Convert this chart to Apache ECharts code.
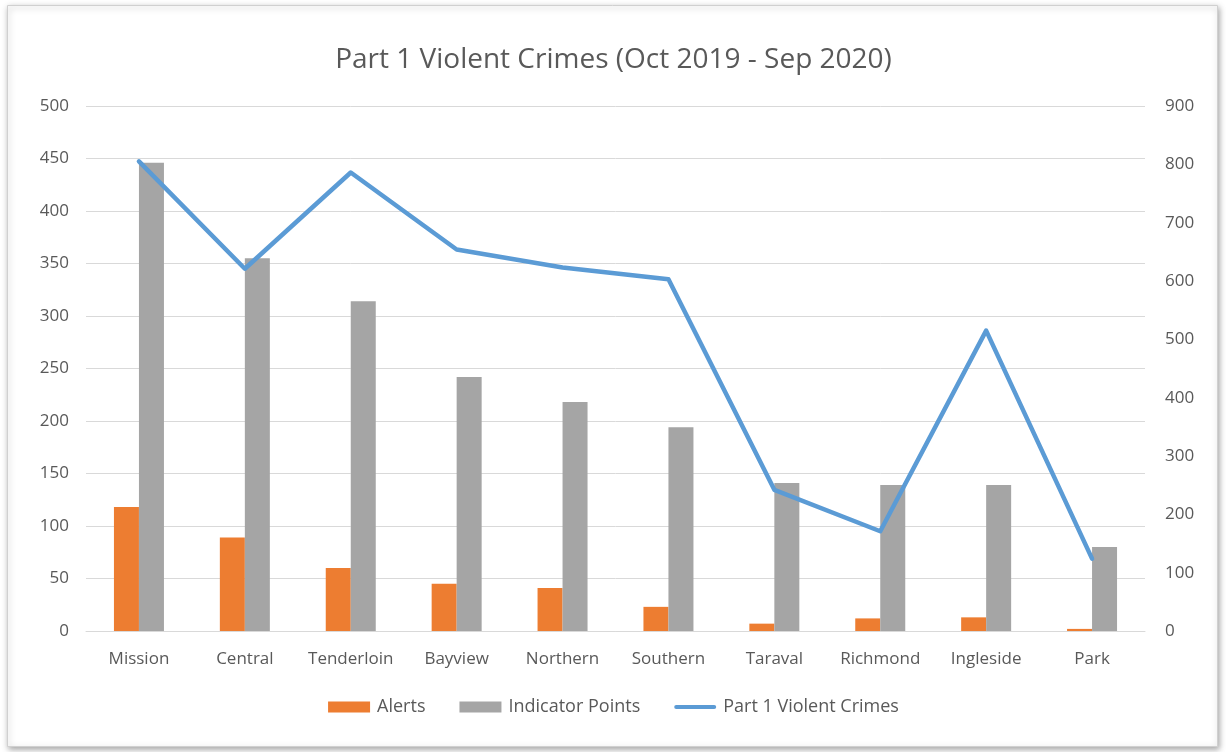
<!DOCTYPE html>
<html><head><meta charset="utf-8">
<script src="https://cdn.jsdelivr.net/npm/echarts@6/dist/echarts.min.js"></script>
<style>html,body{margin:0;padding:0;background:#fff;}#c{width:1227px;height:752px;}</style>
</head><body><div id="c"></div>
<script>
const categories = ['Mission','Central','Tenderloin','Bayview','Northern','Southern','Taraval','Richmond','Ingleside','Park'];
const alerts = [118, 89, 60, 45, 41, 23, 7, 12, 13, 2];
const indicatorPoints = [446, 355, 314, 242, 218, 194, 141, 139, 139, 80];
const violentCrimes = [805, 621, 786, 654, 623, 603, 242, 171, 515, 124];
const leftTicks = [0, 500, 50];
const rightTicks = [0, 900, 100];

const FONT = '"Open Sans", sans-serif';
const TXT = '#595959';
const chart = echarts.init(document.getElementById('c'));
chart.setOption({
  animation: false,
  backgroundColor: '#fff',
  graphic: [{
    type: 'rect', left: 7, top: 5, z: -10,
    shape: { width: 1210, height: 741 },
    style: { fill: '#fff', stroke: '#d0d0d0', lineWidth: 1, shadowBlur: 6, shadowColor: 'rgba(0,0,0,0.35)', shadowOffsetX: 1, shadowOffsetY: 2 }
  }],
  title: {
    text: 'Part 1 Violent Crimes (Oct 2019 - Sep 2020)',
    left: 'center', top: 41,
    textStyle: { fontFamily: FONT, fontSize: 28, fontWeight: 'normal', color: TXT }
  },
  legend: {
    bottom: 31, left: 'center', itemGap: 34, itemWidth: 42, itemHeight: 11,
    textStyle: { fontFamily: FONT, fontSize: 18, color: TXT, padding: [0, 0, 0, 2] },
    data: [
      { name: 'Alerts', icon: 'rect' },
      { name: 'Indicator Points', icon: 'rect' },
      { name: 'Part 1 Violent Crimes', icon: 'path://M2,0 L40,0 A2,2 0 0 1 40,4 L2,4 A2,2 0 0 1 2,0 Z', itemStyle: { color: '#5b9bd5' } }
    ]
  },
  grid: { left: 86, right: 82, top: 106, bottom: 121 },
  xAxis: {
    type: 'category', data: categories,
    axisLine: { lineStyle: { color: '#d9d9d9', width: 1 } },
    axisTick: { show: false },
    axisLabel: { fontFamily: FONT, fontSize: 17, color: TXT, margin: 20, interval: 0 }
  },
  yAxis: [{
    type: 'value', min: leftTicks[0], max: leftTicks[1], interval: leftTicks[2],
    axisLine: { show: false }, axisTick: { show: false },
    splitLine: { lineStyle: { color: '#d9d9d9', width: 1 } },
    axisLabel: { fontFamily: FONT, fontSize: 17, color: TXT, margin: 17 }
  }, {
    type: 'value', min: rightTicks[0], max: rightTicks[1], interval: rightTicks[2],
    axisLine: { show: false }, axisTick: { show: false },
    splitLine: { show: false },
    axisLabel: { fontFamily: FONT, fontSize: 17, color: TXT, margin: 20 }
  }],
  series: [{
    name: 'Alerts', type: 'bar', data: alerts, barWidth: 25, barGap: '0%',
    itemStyle: { color: '#ed7d31' }
  }, {
    name: 'Indicator Points', type: 'bar', data: indicatorPoints, barWidth: 25,
    itemStyle: { color: '#a5a5a5' }
  }, {
    name: 'Part 1 Violent Crimes', type: 'line', yAxisIndex: 1, data: violentCrimes,
    symbol: 'none', lineStyle: { color: '#5b9bd5', width: 4.5, cap: 'round', join: 'round' },
    itemStyle: { color: '#5b9bd5' }
  }]
});
</script></body></html>
